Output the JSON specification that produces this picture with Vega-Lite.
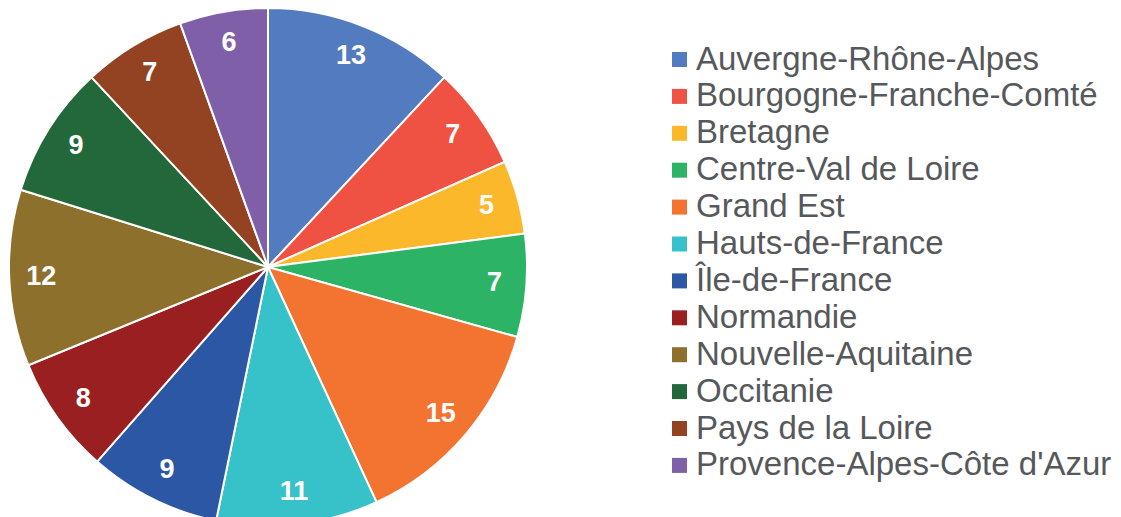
{
  "$schema": "https://vega.github.io/schema/vega-lite/v6.json",
  "width": 536,
  "height": 534,
  "padding": 0,
  "autosize": {"type": "pad"},
  "background": "white",
  "config": {"view": {"stroke": null}, "font": "Liberation Sans"},
  "data": {
    "values": [
      {"i": 1, "region": "Auvergne-Rhône-Alpes", "n": 13},
      {"i": 2, "region": "Bourgogne-Franche-Comté", "n": 7},
      {"i": 3, "region": "Bretagne", "n": 5},
      {"i": 4, "region": "Centre-Val de Loire", "n": 7},
      {"i": 5, "region": "Grand Est", "n": 15},
      {"i": 6, "region": "Hauts-de-France", "n": 11},
      {"i": 7, "region": "Île-de-France", "n": 9},
      {"i": 8, "region": "Normandie", "n": 8},
      {"i": 9, "region": "Nouvelle-Aquitaine", "n": 12},
      {"i": 10, "region": "Occitanie", "n": 9},
      {"i": 11, "region": "Pays de la Loire", "n": 7},
      {"i": 12, "region": "Provence-Alpes-Côte d'Azur", "n": 6}
    ]
  },
  "encoding": {
    "theta": {"field": "n", "type": "quantitative", "stack": true},
    "order": {"field": "i", "type": "quantitative"}
  },
  "layer": [
    {
      "mark": {"type": "arc", "outerRadius": 259, "stroke": "white", "strokeWidth": 2},
      "encoding": {
        "color": {
          "field": "region",
          "type": "nominal",
          "scale": {
            "domain": ["Auvergne-Rhône-Alpes", "Bourgogne-Franche-Comté", "Bretagne", "Centre-Val de Loire", "Grand Est", "Hauts-de-France", "Île-de-France", "Normandie", "Nouvelle-Aquitaine", "Occitanie", "Pays de la Loire", "Provence-Alpes-Côte d'Azur"],
            "range": ["#527BC0", "#EF5143", "#FBB82B", "#2DB366", "#F37430", "#37C1C8", "#2C57A5", "#9A1F21", "#8C702C", "#22683A", "#944322", "#805FA9"]
          },
          "legend": {
            "title": null,
            "orient": "none",
            "legendX": 663,
            "legendY": 43,
            "symbolType": "square",
            "symbolSize": 225,
            "symbolStrokeWidth": 0,
            "labelFont": "Liberation Sans",
            "labelFontSize": 33,
            "labelColor": "#56585B",
            "labelOffset": 0,
            "labelLimit": 600,
            "rowPadding": 2.9
          }
        }
      }
    },
    {
      "mark": {"type": "text", "radius": 227, "fontSize": 27, "fontWeight": "bold", "fill": "white", "font": "Liberation Sans", "baseline": "middle", "align": "center"},
      "encoding": {
        "text": {"field": "n", "type": "quantitative"}
      }
    }
  ]
}
